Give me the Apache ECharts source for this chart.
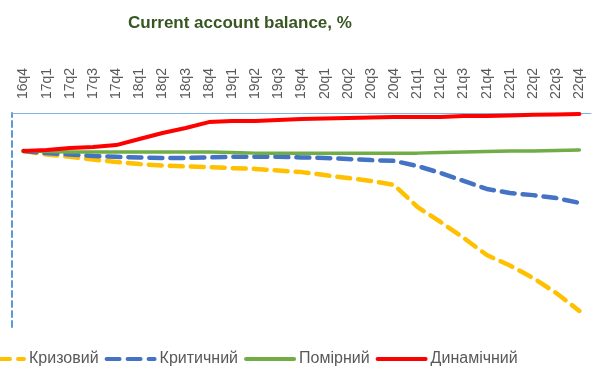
<!DOCTYPE html>
<html>
<head>
<meta charset="utf-8">
<script src="https://cdn.jsdelivr.net/npm/echarts@6/dist/echarts.min.js"></script>
<style>html,body{margin:0;padding:0;background:#fff}#c{width:611px;height:387px}</style>
</head>
<body>
<div id="c"></div>
<script>
var categories = ['16q4','17q1','17q2','17q3','17q4','18q1','18q2','18q3','18q4','19q1','19q2','19q3','19q4','20q1','20q2','20q3','20q4','21q1','21q2','21q3','21q4','22q1','22q2','22q3','22q4'];
var krizovyi = [-1.42,-1.55,-1.64,-1.74,-1.83,-1.91,-1.96,-2.00,-2.02,-2.06,-2.09,-2.15,-2.21,-2.32,-2.43,-2.54,-2.69,-3.51,-4.07,-4.67,-5.31,-5.70,-6.17,-6.73,-7.40];
var krytychnyi = [-1.42,-1.50,-1.55,-1.61,-1.64,-1.66,-1.68,-1.68,-1.66,-1.64,-1.64,-1.64,-1.66,-1.68,-1.72,-1.76,-1.79,-1.98,-2.24,-2.54,-2.84,-2.99,-3.07,-3.18,-3.36];
var pomirnyi = [-1.42,-1.44,-1.46,-1.46,-1.46,-1.46,-1.46,-1.46,-1.46,-1.48,-1.50,-1.50,-1.50,-1.50,-1.50,-1.50,-1.50,-1.50,-1.48,-1.46,-1.44,-1.42,-1.42,-1.40,-1.38];
var dynamichnyi = [-1.42,-1.38,-1.31,-1.27,-1.20,-0.97,-0.75,-0.56,-0.34,-0.30,-0.30,-0.26,-0.22,-0.21,-0.19,-0.17,-0.15,-0.15,-0.15,-0.11,-0.11,-0.09,-0.07,-0.06,-0.04];
var seriesNames = ['Кризовий','Критичний','Помірний','Динамічний'];

var chart = echarts.init(document.getElementById('c'));
function ser(name, data, color, type, width) {
  return {
    name: name, type: 'line', data: data, symbol: 'none', smooth: false,
    lineStyle: {color: color, width: width, type: type, cap: 'round', join: 'round'},
    itemStyle: {color: color}
  };
}
chart.setOption({
  animation: false,
  title: {
    text: 'Current account balance, %', left: 123, top: 10,
    textStyle: {fontFamily: 'Liberation Sans', fontSize: 17, fontWeight: 'bold', color: '#375623'}
  },
  legend: {
    left: -31, top: 346, itemWidth: 48, itemHeight: 14, itemGap: 6,
    itemStyle: {opacity: 0},
    lineStyle: {width: 4, cap: 'round'},
    textStyle: {fontFamily: 'Liberation Sans', fontSize: 16, color: '#595959'},
    data: seriesNames
  },
  grid: {left: 12, right: 20, top: 113, bottom: 60},
  xAxis: {
    type: 'category', data: categories, position: 'top', boundaryGap: true,
    axisLine: {show: true, lineStyle: {color: '#7FB3E3', width: 1}},
    axisTick: {show: false},
    axisLabel: {rotate: 90, margin: 14, fontFamily: 'Liberation Sans', fontSize: 14, color: '#595959'}
  },
  yAxis: {
    type: 'value', min: -8, max: 0,
    axisLine: {show: true, lineStyle: {color: '#5B9BD5', width: 2, type: [6, 4]}},
    axisTick: {show: false}, axisLabel: {show: false}, splitLine: {show: false}
  },
  series: [
    ser(seriesNames[0], krizovyi, '#FFC000', [13, 8], 4.5),
    ser(seriesNames[1], krytychnyi, '#4472C4', [13, 8], 4.5),
    ser(seriesNames[2], pomirnyi, '#70AD47', 'solid', 3.5),
    ser(seriesNames[3], dynamichnyi, '#FF0000', 'solid', 4)
  ]
});
</script>
</body>
</html>
